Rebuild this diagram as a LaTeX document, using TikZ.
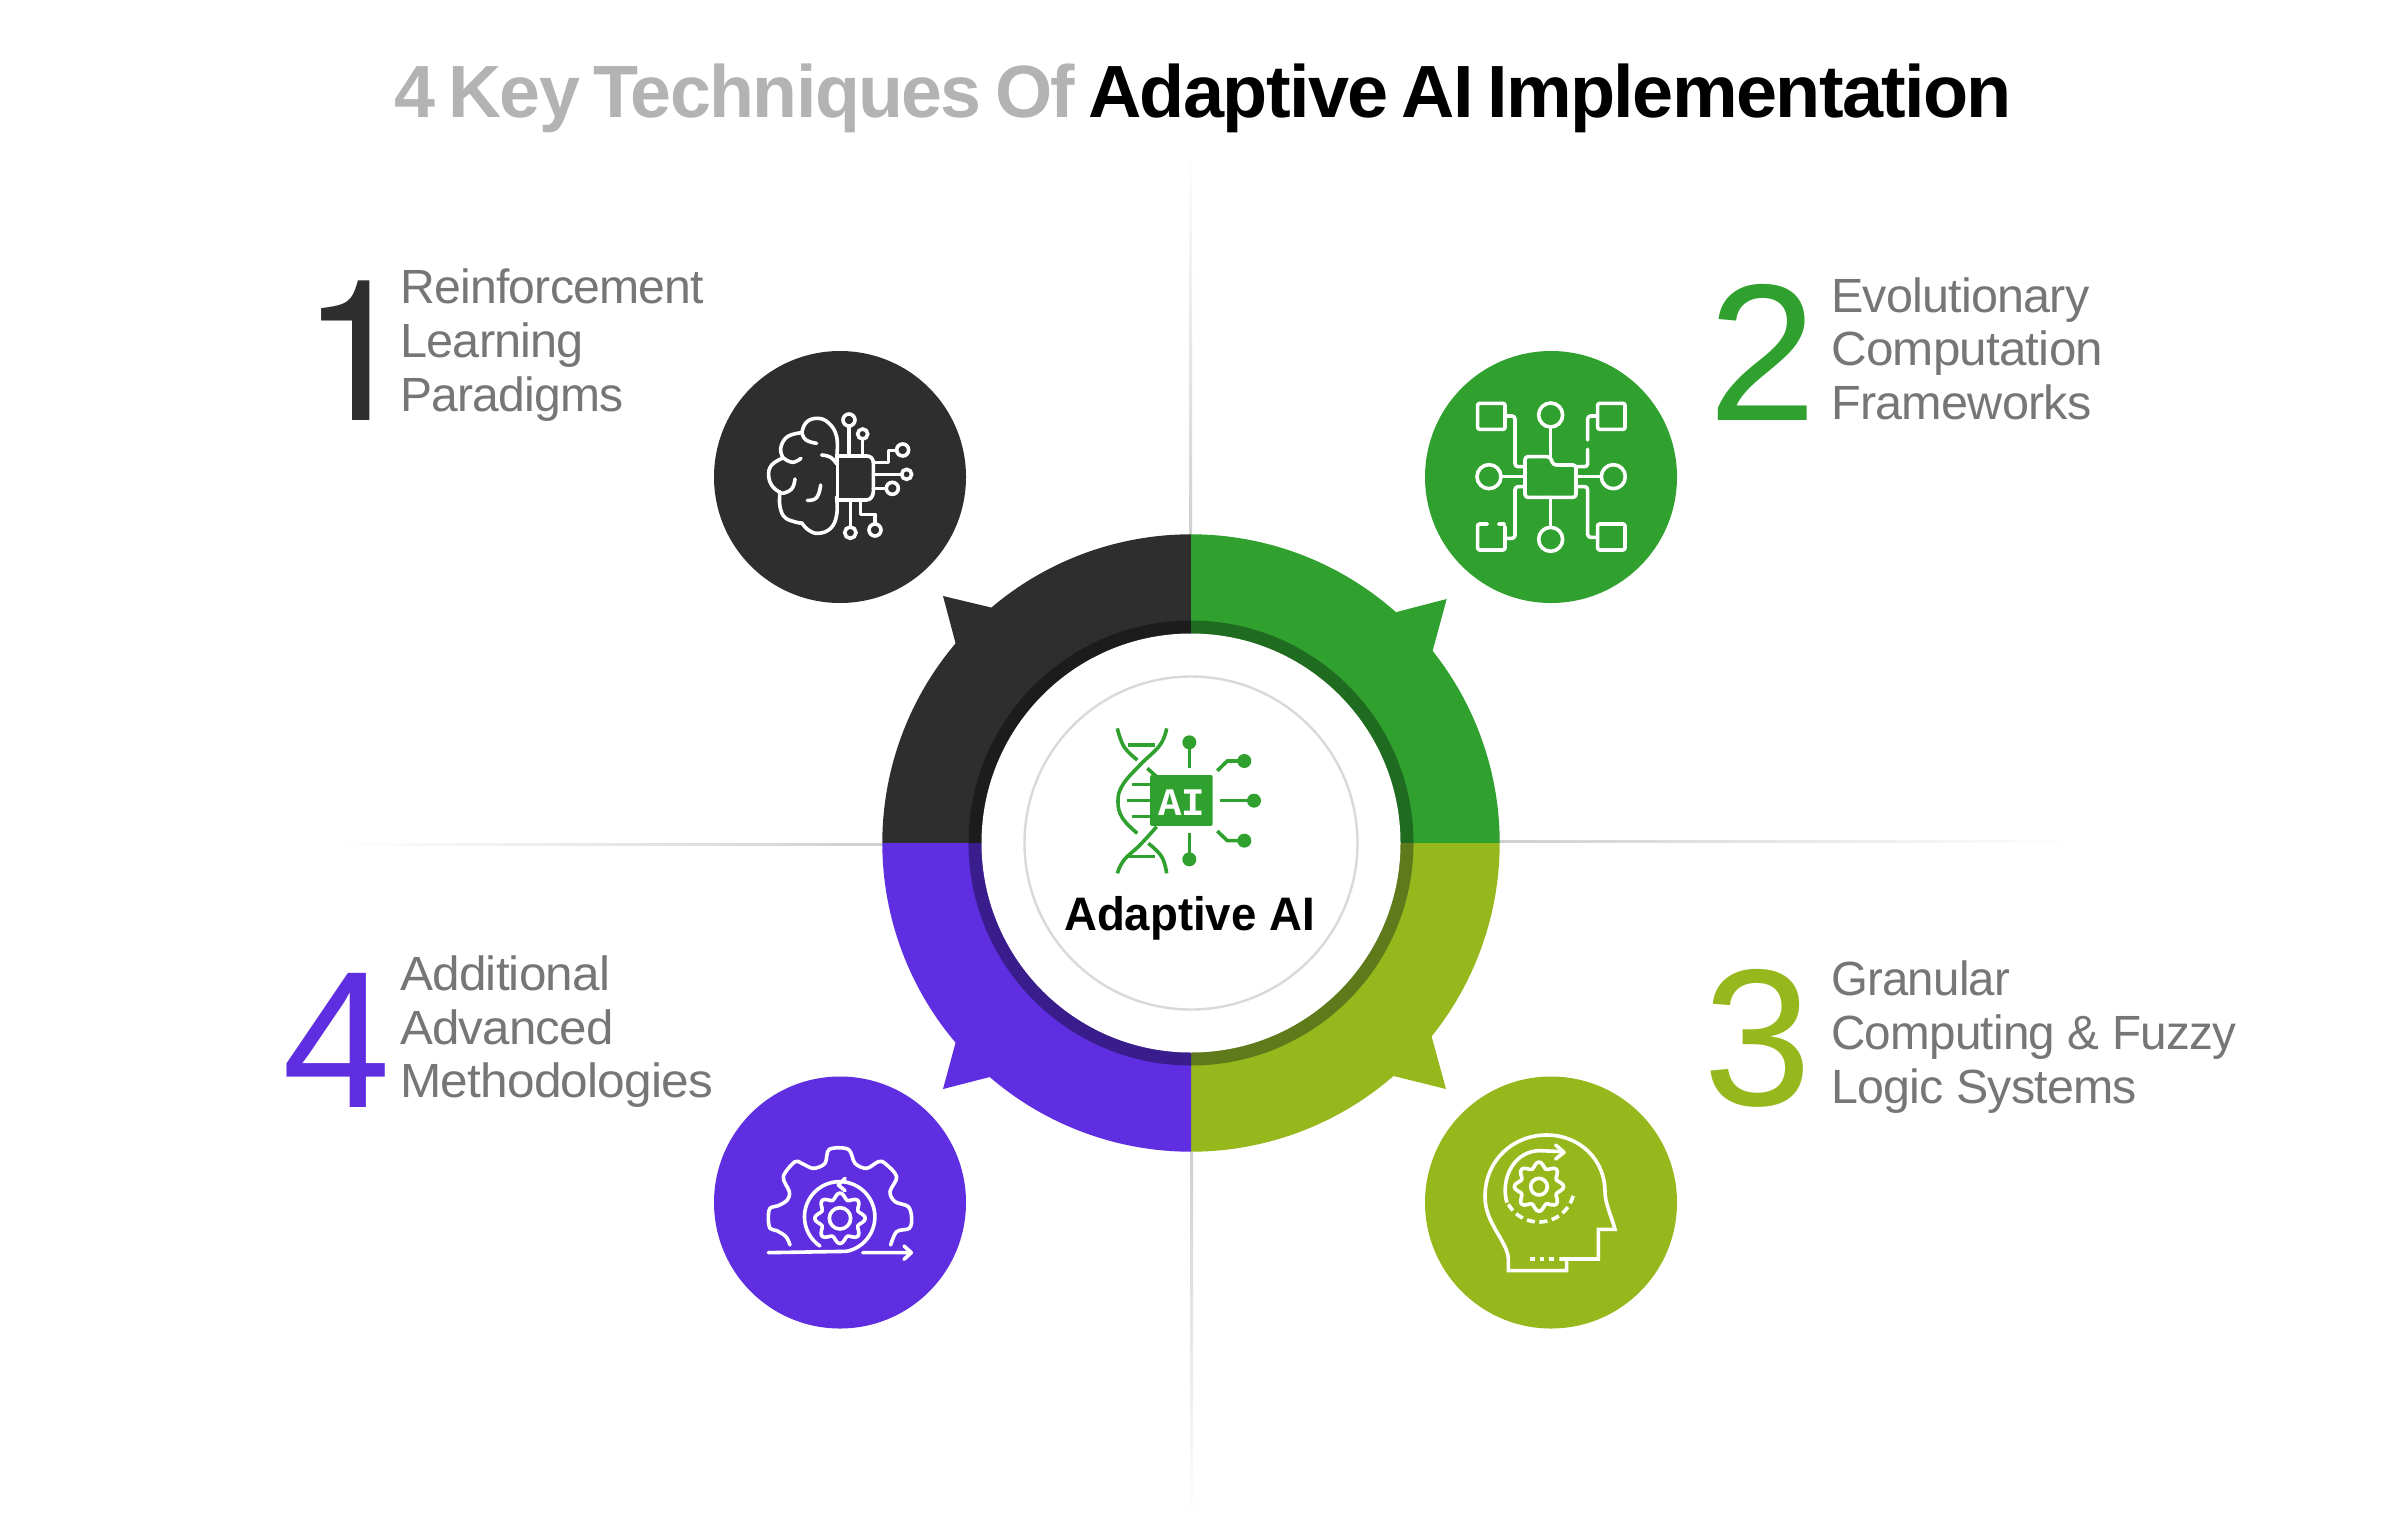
\documentclass[tikz,border=0pt]{standalone}
\usepackage{fontspec}
\setmainfont{Liberation Sans}
\newfontfamily\lblfont[LetterSpace=-1.6]{Liberation Sans}
\newfontfamily\ttlfont[LetterSpace=-2.2,WordSpace=0.7]{Liberation Sans}
\newfontfamily\numfont{TeX Gyre Heros}
\newfontfamily\chipfont{Liberation Mono}
\definecolor{cdark}{HTML}{2E2E2E}
\definecolor{cgreen}{HTML}{30A02F}
\definecolor{clime}{HTML}{97B81D}
\definecolor{cpurple}{HTML}{5F2EE0}
\definecolor{bdark}{HTML}{1C1C1C}
\definecolor{bgreen}{HTML}{1F6B1F}
\definecolor{blime}{HTML}{5F7A1A}
\definecolor{bpurple}{HTML}{3A1D8C}
\definecolor{lblgray}{HTML}{767676}
\definecolor{ttlgray}{HTML}{B3B3B3}
\definecolor{axisgray}{HTML}{CFCFCF}
\tikzset{
 lbl/.style={anchor=base west,inner sep=0pt,text=lblgray,font=\lblfont\fontsize{48}{54}\selectfont},
 numeral/.style={anchor=base west,inner sep=0pt,font=\fontsize{195}{195}\selectfont},
 ttl/.style={anchor=base west,inner sep=0pt,font=\ttlfont\bfseries\fontsize{74}{80}\selectfont},
 badge/.style={circle,minimum size=252pt,inner sep=0pt,fill=#1},
 ic/.style={draw=white,line width=3.6pt,line cap=round,line join=round},
 dn/.style={draw=cgreen,line width=3.6pt},
 pad/.style={draw=white,line width=3.6pt},
}
\begin{document}
\begin{tikzpicture}[x=1pt,y=-1pt]
\useasboundingbox (0,0) rectangle (2400,1521);
\fill[white] (0,0) rectangle (2400,1521);
% axes
\shade[top color=white,bottom color=axisgray] (1189.5,150) rectangle (1192,540);
\shade[top color=axisgray,bottom color=white] (1190.5,1150) rectangle (1193,1521);
\shade[left color=white,right color=axisgray] (335,843) rectangle (885,845.5);
\shade[left color=axisgray,right color=white] (1495,840) rectangle (2070,842.5);
% ring quadrants
\begin{scope}[shift={(1191,843)}]
\fill[cdark] (0,0) -- (180:308.7) arc[start angle=180,end angle=220.3,radius=308.7] -- (-248,-247) -- (229.7:308.7) arc[start angle=229.7,end angle=270,radius=308.7] -- cycle;
\fill[cgreen] (0,0) -- (270:308.7) arc[start angle=270,end angle=311.6,radius=308.7] -- (255.7,-244) -- (321.5:308.7) arc[start angle=321.5,end angle=360,radius=308.7] -- cycle;
\fill[clime] (0,0) -- (0:308.7) arc[start angle=0,end angle=38.8,radius=308.7] -- (255,246) -- (49:308.7) arc[start angle=49,end angle=90,radius=308.7] -- cycle;
\fill[cpurple] (0,0) -- (90:308.7) arc[start angle=90,end angle=130.7,radius=308.7] -- (-248,246) -- (139.7:308.7) arc[start angle=139.7,end angle=180,radius=308.7] -- cycle;
\fill[bdark] (0,0) -- (180:222.5) arc[start angle=180,end angle=270,radius=222.5] -- cycle;
\fill[bgreen] (0,0) -- (270:222.5) arc[start angle=270,end angle=360,radius=222.5] -- cycle;
\fill[blime] (0,0) -- (0:222.5) arc[start angle=0,end angle=90,radius=222.5] -- cycle;
\fill[bpurple] (0,0) -- (90:222.5) arc[start angle=90,end angle=180,radius=222.5] -- cycle;
\fill[white] (0,0) circle[radius=209.5];
\draw[draw=gray!30,line width=2.4pt] (0,0) circle[radius=166.5];
\end{scope}
% badges
\node[badge=cdark] (b1) at (840,477) {};
\node[badge=cgreen] (b2) at (1551,477) {};
\node[badge=clime] (b3) at (1551,1202.5) {};
\node[badge=cpurple] (b4) at (840,1202.5) {};
% title
\node[ttl,text=ttlgray,xscale=0.994] (title1) at (394,117) {4 Key Techniques Of};
\node[ttl,text=black,xscale=0.998] (title2) at (1088,117) {Adaptive AI Implementation};
% numerals
\node[numeral,text=cdark,font=\numfont\fontsize{197}{197}\selectfont] (n1) at (301,420) {1};
\node[numeral,text=cgreen] (n2) at (1708,420) {2};
\node[numeral,text=clime] (n3) at (1703,1105) {3};
\node[numeral,text=cpurple] (n4) at (282,1107) {4};
% labels
\node[lbl,xscale=1.003] (a1) at (400,303) {Reinforcement};
\node[lbl,xscale=1.013] (a2) at (400,357) {Learning};
\node[lbl] (a3) at (400,411) {Paradigms};
\node[lbl,xscale=1.01] (c1) at (1831,312) {Evolutionary};
\node[lbl,xscale=1.028] (c2) at (1831,365) {Computation};
\node[lbl,xscale=1.012] (c3) at (1831,419) {Frameworks};
\node[lbl,xscale=0.987] (d1) at (1831,995) {Granular};
\node[lbl,xscale=0.992] (d2) at (1831,1049) {Computing \& Fuzzy};
\node[lbl,xscale=1.007] (d3) at (1831,1103) {Logic Systems};
\node[lbl,xscale=1.03] (e1) at (400,990) {Additional};
\node[lbl,xscale=1.026] (e2) at (400,1044) {Advanced};
\node[lbl,xscale=1.033] (e3) at (400,1097) {Methodologies};
\node[anchor=base,inner sep=0pt,xscale=0.97,font=\bfseries\fontsize{47}{50}\selectfont] (centre) at (1189.5,930) {Adaptive AI};
% brain icon
\begin{scope}[shift={(700,330)},x=0.3333pt,y=-0.3333pt]
\draw[ic] plot[smooth,tension=.7] coordinates {(410,385)(410,320)(385,278)(350,265)(318,278)(305,310)};
\draw[ic] plot[smooth,tension=.7] coordinates {(305,308)(262,320)(242,355)(250,385)};
\draw[ic] plot[smooth,tension=.7] coordinates {(250,383)(215,405)(206,437)(218,470)(245,490)};
\draw[ic] plot[smooth,tension=.7] coordinates {(240,485)(240,530)(258,565)(305,580)};
\draw[ic] plot[smooth,tension=.7] coordinates {(305,578)(325,600)(355,610)(392,595)(410,555)(410,500)};
\draw[ic] plot[smooth,tension=.8] coordinates {(306,308)(318,330)(350,340)};
\draw[ic] plot[smooth,tension=.8] coordinates {(252,385)(278,397)(303,385)};
\draw[ic] plot[smooth,tension=.8] coordinates {(248,490)(275,477)(285,447)};
\draw[ic] plot[smooth,tension=.8] coordinates {(322,511)(350,503)(362,465)};
\draw[ic] plot[smooth,tension=.8] coordinates {(365,375)(392,382)(410,402)};
\draw[ic] (412,378) -- (500,378) .. controls (512,378) and (520,386) .. (520,398) -- (520,485) .. controls (520,497) and (512,510) .. (500,510) -- (412,510);
\draw[ic] (412,378) -- (412,510);
\draw[pad] (447,270) circle[radius=18] (488,312) circle[radius=15] (608,360) circle[radius=18] (620,433) circle[radius=15] (577,475) circle[radius=18] (451,608) circle[radius=17] (525,600) circle[radius=18];
\draw[ic] (447,288) -- (447,378) (488,327) -- (488,378) (590,362) -- (565,362) -- (565,398) -- (520,398) (605,433) -- (520,433) (559,475) -- (520,475) (451,591) -- (451,510) (482,510) -- (482,553) -- (525,553) -- (525,582);
\end{scope}
% network icon
\begin{scope}[shift={(1410,330)},x=0.3333pt,y=-0.3333pt]
\draw[ic,rounded corners=3pt] (345,380) -- (420,380) -- (430,405) -- (498,405) -- (498,502) -- (345,502) -- cycle;
\draw[ic,rounded corners=2pt] (203,220) rectangle (285,298) (563,220) rectangle (645,298) (563,582) rectangle (645,660);
\draw[ic,rounded corners=2pt] (232,582) -- (203,582) -- (203,660) -- (285,660) -- (285,590) (266,582) -- (283,582);
\draw[ic] (422,255) circle[radius=36] (237,440) circle[radius=36] (610,440) circle[radius=36] (422,628) circle[radius=36];
\draw[ic] (422,292) -- (422,380) (272,440) -- (345,440) (498,440) -- (573,440) (422,502) -- (422,592);
\draw[ic,rounded corners=3pt] (285,258) -- (315,258) -- (315,410) -- (345,410);
\draw[ic,rounded corners=3pt] (563,258) -- (533,258) -- (533,330);
\draw[ic,rounded corners=3pt] (533,358) -- (533,410) -- (498,410);
\draw[ic,rounded corners=3pt] (345,470) -- (315,470) -- (315,625) -- (285,625);
\draw[ic,rounded corners=3pt] (498,470) -- (533,470) -- (533,622) -- (563,622);
\end{scope}
% head icon
\begin{scope}[shift={(1410,1060)},x=0.3333pt,y=-0.3333pt]
\draw[ic,line cap=butt,line join=miter] (470,600) -- (470,632) -- (295,632) -- (295,595) .. controls (290,540) and (225,490) .. (225,410) .. controls (225,300) and (310,225) .. (410,225) .. controls (510,225) and (585,300) .. (585,395) .. controls (585,430) and (605,470) .. (615,508) -- (565,508) -- (565,597) -- (448,597);
\draw[ic,line cap=butt] (360,597) -- (374,597) (389,597) -- (403,597) (418,597) -- (432,597);
\draw[ic] (387,380) circle[radius=25];
\draw[ic] plot[smooth cycle,samples=64,domain=0:354.375,variable=\t] ({387+(65+9*cos(8*\t))*cos(\t)},{380+(65+9*cos(8*\t))*sin(\t)});
\draw[ic,line cap=butt] (291,428) .. controls (270,360) and (310,272) .. (390,272) -- (460,275);
\draw[ic] (437,255) -- (462,277) -- (437,297);
\draw[ic,line cap=butt,dash pattern=on 8pt off 4.6pt] (387,380) ++(15:106) arc[start angle=15,end angle=150,radius=106];
\end{scope}
% gear icon
\begin{scope}[shift={(700,1060)},x=0.3333pt,y=-0.3333pt]
\draw[ic] plot[smooth,tension=.55] coordinates {(270,555)(258,530)(230,512)(210,505)(205,475)(210,445)(235,437)(262,420)(268,395)(250,350)(285,305)(305,310)(340,325)(375,310)(388,268)(445,268)(465,310)(500,325)(535,305)(555,310)(590,350)(570,395)(585,425)(625,440)(635,475)(628,505)(590,515)(572,555)};
\draw[ic] (360,558) arc[start angle=124,end angle=439,radius=105.6] -- (205,578);
\draw[ic] (435,355) -- (415,375) -- (435,392);
\draw[ic] (488,578) -- (632,578) (612,558) -- (634,578) -- (612,598);
\draw[ic] (420,475) circle[radius=32];
\draw[ic] plot[smooth cycle,samples=64,domain=0:354.375,variable=\t] ({420+(67+9*cos(8*\t))*cos(\t)},{475+(67+9*cos(8*\t))*sin(\t)});
\end{scope}
% centre icon
\begin{scope}[shift={(1000,680)},x=0.3333pt,y=-0.3333pt]
\fill[cgreen,rounded corners=2pt] (450,285) rectangle (638,438);
\node[inner sep=0pt,text=white,font=\chipfont\bfseries\fontsize{39}{39}\selectfont] (chip) at (545,367) {AI};
\draw[dn] plot[smooth,tension=.7] coordinates {(352,145)(372,200)(412,240)};
\draw[dn] plot[smooth,tension=.7] coordinates {(500,145)(480,195)(420,255)(368,315)(354,365)(368,415)(412,460)};
\draw[dn] plot[smooth,tension=.7] coordinates {(470,440)(420,495)(372,540)(352,580)};
\draw[dn] plot[smooth,tension=.7] coordinates {(445,490)(485,530)(500,580)};
\draw[dn] (442,265) -- (472,292);
\draw[dn] (385,195) -- (465,195) (395,313) -- (450,313) (380,362) -- (450,362) (395,410) -- (450,410) (385,530) -- (465,530);
\draw[dn] (568,187) -- (568,265) (568,538) -- (568,460) (660,362) -- (762,362);
\draw[dn] (652,272) -- (682,243) -- (733,243) (652,453) -- (682,482) -- (733,482);
\fill[cgreen] (568,187) circle[radius=21] (568,538) circle[radius=21] (762,362) circle[radius=21] (733,243) circle[radius=21] (733,482) circle[radius=21];
\end{scope}
\end{tikzpicture}
\end{document}
